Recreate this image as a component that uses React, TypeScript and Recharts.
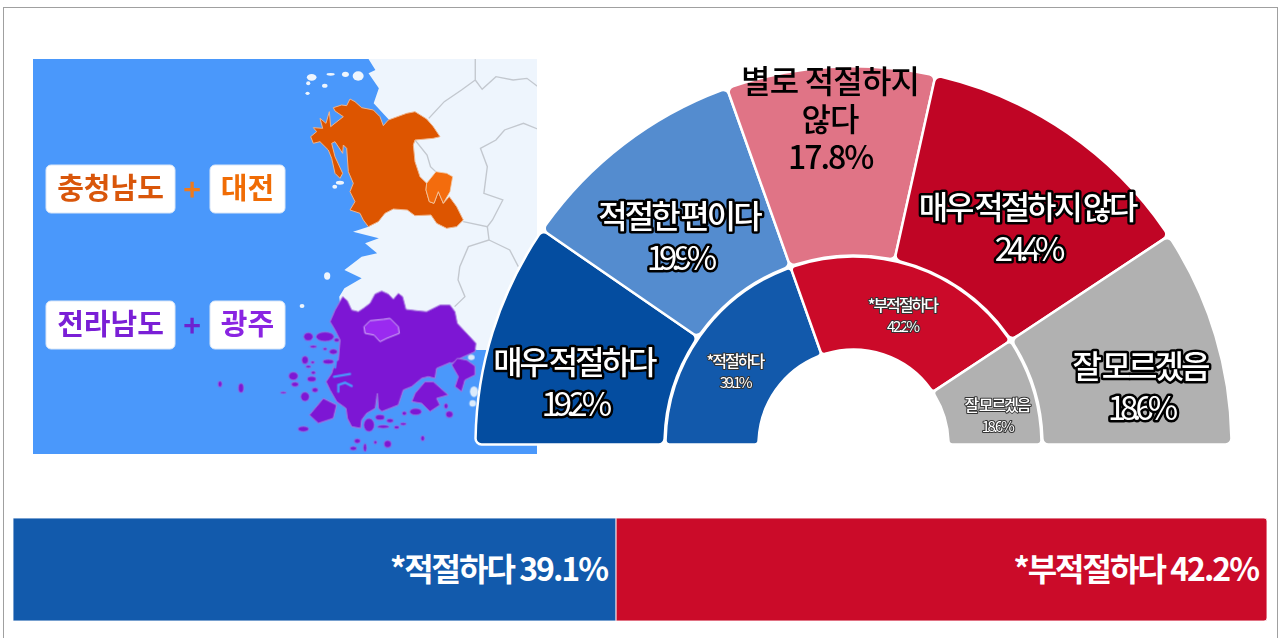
import React from "react";
import { PieChart, Pie, Cell, BarChart, Bar, XAxis, YAxis, LabelList } from "recharts";

const FONT = "'Noto Sans CJK KR', 'Noto Sans', sans-serif";

const outerNames = ["매우 적절하다", "적절한 편이다", "별로 적절하지 않다", "매우 적절하지 않다", "잘 모르겠음"];
const outerValues = [19.2, 19.9, 17.8, 24.4, 18.6];
const outerColors = ["#044da0", "#548ccf", "#e07486", "#c00525", "#b1b1b1"];

const innerNames = ["*적절하다", "*부적절하다", "잘 모르겠음"];
const innerValues = [39.1, 42.2, 18.6];
const innerColors = ["#1259ab", "#cb0a29", "#b1b1b1"];

const barNames = ["*적절하다", "*부적절하다"];
const barValues = [39.1, 42.2];
const barColors = ["#125aac", "#cb0b29"];

// label nudges from the ring's mid radius
const outerNudge = [[-9, 25], [-2, 19], [-6, -43], [13, 19], [15, 26]];
const innerNudge = [[-3, 9], [4, 6], [8, 12]];

const outerData = outerNames.map((name, i) => ({ name, value: outerValues[i] }));
const innerData = innerNames.map((name, i) => ({ name, value: innerValues[i] }));
const barRow = [{ name: "total", good: barValues[0], bad: barValues[1] }];

const RADIAN = Math.PI / 180;

const labelPos = (p: any, nudge: number[][]) => {
  const r = (p.innerRadius + p.outerRadius) / 2;
  return {
    x: p.cx + r * Math.cos(-p.midAngle * RADIAN) + nudge[p.index][0],
    y: p.cy + r * Math.sin(-p.midAngle * RADIAN) + nudge[p.index][1],
  };
};

const outlined = {
  fill: "#fff",
  stroke: "#000",
  paintOrder: "stroke",
  strokeLinejoin: "round",
  textAnchor: "middle",
  fontFamily: FONT,
} as any;

const OuterLabel = (p: any) => {
  const { x, y } = labelPos(p, outerNudge);
  if (p.index === 2) {
    return (
      <text x={x} y={y} textAnchor="middle" fontFamily={FONT} fontSize={32} fontWeight={500} fill="#000" letterSpacing={-0.8}>
        <tspan x={x} y={y - 26}>별로 적절하지</tspan>
        <tspan x={x} y={y + 12}>않다</tspan>
        <tspan x={x} y={y + 50} letterSpacing={-2}>{p.value}%</tspan>
      </text>
    );
  }
  return (
    <g>
      <text {...outlined} x={x} y={y - 11} fontSize={32} fontWeight={500} strokeWidth={5} letterSpacing={-3} wordSpacing={-1.5}>
        {p.name}
      </text>
      <text {...outlined} x={x} y={y + 31} fontSize={33} strokeWidth={5} letterSpacing={-6}>
        {p.value}%
      </text>
    </g>
  );
};

const InnerLabel = (p: any) => {
  const { x, y } = labelPos(p, innerNudge);
  return (
    <g>
      <text {...outlined} x={x} y={y - 5} fontSize={16} fontWeight={500} strokeWidth={2} stroke="#333" letterSpacing={-2}>
        {p.name}
      </text>
      <text {...outlined} x={x} y={y + 16} fontSize={15} strokeWidth={2} stroke="#333" letterSpacing={-2.5}>
        {p.value}%
      </text>
    </g>
  );
};

const BarText = (index: number) => (p: any) => (
  <text
    x={p.x + p.width - 9}
    y={p.y + p.height / 2 + 11}
    textAnchor="end"
    fontFamily={FONT}
    fontSize={32}
    fontWeight={700}
    letterSpacing={-2}
    fill="#fff"
  >
    {barNames[index]} {barValues[index]}%
  </text>
);

// decorative map picture, traced in zoomed pixels
const MAP_LAND = "M1070,57 L1568,57 L1568,930 L1385,930 L1300,900 L1000,900 L985,770 L1000,745 L1050,715 L1000,690 L1050,650 L1095,640 L1060,610 L1100,595 L1025,575 L1070,560 L1130,240 L1085,190 L1100,145 L1070,100 L1090,90 Z";
const MAP_BORDERS = [
  "M1245,235 L1290,185 L1340,150 L1380,120 L1380,57",
  "M1380,120 L1400,148 L1440,110 L1490,120 L1530,115 L1568,145",
  "M1568,270 L1520,250 L1465,270 L1440,300 L1395,325 L1415,380 L1405,460 L1460,480 L1430,540 L1415,560 L1345,545",
  "M1205,300 L1240,345 L1250,380 L1265,395",
  "M1415,560 L1420,600 L1360,620 L1335,680 L1330,720 L1350,770 L1320,800",
  "M1420,600 L1480,630 L1505,680",
];
const ISLES_LIGHT = [
  [905, 112, 14, 10], [960, 103, 12, 4], [1003, 103, 10, 8], [1040, 108, 16, 14], [943, 137, 8, 6], [895, 130, 6, 6], [893, 160, 6, 5],
  [987, 428, 12, 6], [972, 440, 7, 6], [950, 708, 9, 11], [877, 798, 7, 6],
];
const MAP_ORANGE = "M100,68 L125,60 L140,62 L150,42 L165,50 L185,68 L220,75 L240,95 L250,122 L265,105 L320,85 L345,80 L380,102 L400,125 L420,155 L400,160 L345,165 L340,180 L345,230 L360,275 L380,295 L378,315 L388,350 L402,355 L415,320 L430,355 L448,335 L470,365 L490,405 L470,425 L440,430 L410,415 L393,390 L345,392 L322,375 L280,372 L255,385 L235,410 L205,425 L190,405 L180,385 L150,375 L165,350 L150,320 L160,295 L145,260 L140,190 L130,180 L128,205 L105,170 L95,175 L105,215 L128,265 L120,280 L105,265 L95,220 L85,195 L60,170 L40,175 L32,155 L50,140 L40,128 L68,130 L60,100 L78,115 L88,80 L92,125 L130,95 L105,78 Z";
const MAP_DAEJEON = "M408,260 L440,265 L458,275 L450,320 L430,355 L415,320 L402,355 L388,350 L378,315 L380,295 Z";
const MAP_PURPLE = [
  "M218,50 L232,62 L245,90 L265,95 L280,85 L300,70 L315,42 L335,33 L355,42 L370,58 L385,40 L398,50 L408,88 L440,92 L470,95 L510,75 L540,75 L555,95 L562,130 L595,165 L618,190 L615,215 L570,235 L545,250 L540,248 L500,265 L495,295 L475,290 L455,295 L425,320 L400,330 L385,375 L360,385 L335,395 L325,385 L322,340 L316,385 L290,400 L275,420 L272,445 L245,440 L232,415 L228,385 L200,365 L180,330 L168,305 L185,280 L195,245 L205,240 L210,180 L195,150 L180,125 L195,90 Z",
  "M562,235 L590,240 L615,258 L615,285 L585,300 L575,335 L555,320 L565,290 L545,255 Z",
  "M465,305 L490,305 L535,345 L500,355 L510,375 L480,395 L455,370 L425,365 L435,340 Z",
  "M118,405 L160,355 L200,375 L190,415 L145,430 Z",
];
const MAP_INLETS = ["M192,290 L240,282", "M205,335 L205,315 L225,308 L245,318", "M195,262 L200,225"];
const MAP_GWANGJU = "M282,140 L300,122 L340,118 L360,115 L385,140 L388,160 L350,175 L330,185 L312,165 L285,160 Z";
const ISLES_PURPLE = [
  [115, 170, 14, 12], [165, 170, 27, 14], [200, 180, 8, 6], [130, 200, 10, 4], [105, 240, 10, 12], [128, 247, 6, 4], [175, 245, 16, 7],
  [165, 207, 6, 4], [115, 260, 8, 4], [70, 288, 14, 12], [75, 313, 11, 7], [125, 297, 13, 8], [130, 278, 7, 5], [135, 330, 9, 7],
  [105, 350, 13, 14], [40, 338, 9, 3], [100, 447, 16, 8], [330, 412, 14, 8], [360, 422, 10, 6], [340, 440, 18, 5], [380, 442, 8, 5],
  [400, 432, 9, 4], [403, 400, 7, 6], [437, 395, 18, 10], [528, 378, 6, 8], [538, 403, 11, 10], [458, 475, 6, 8], [262, 483, 9, 7],
  [250, 505, 10, 6], [285, 503, 5, 12], [316, 487, 5, 5], [353, 492, 11, 11], [297, 435, 16, 20], [190, 215, 12, 8], [-87, 324, 8, 14], [-150, 312, 6, 9],
];
const ISLES_FOAM = [[612, 335, 12, 16], [608, 370, 10, 10], [604, 232, 10, 8]];

const MapTag = ({ x, w, y, text, color }: any) => (
  <g>
    <rect x={x} y={y} width={w} height={48} rx={5} fill="#fff" stroke="#d9e6f7" />
    <text x={x + w / 2} y={y + 34} textAnchor="middle" fontFamily={FONT} fontWeight={700} fontSize={29} fill={color}>
      {text}
    </text>
  </g>
);

const MapPicture = () => (
  <svg width={504} height={395} viewBox="33 59 504 395" style={{ position: "absolute", left: 33, top: 59 }}>
    <defs>
      <filter id="soft" x="-5%" y="-5%" width="110%" height="110%">
        <feGaussianBlur stdDeviation="0.7" />
      </filter>
    </defs>
    <rect x={33} y={59} width={504} height={395} fill="#4a98fb" />
    <g filter="url(#soft)">
      <g transform="translate(0,40) scale(0.3444,0.3333)">
        <path d={MAP_LAND} fill="#eef5fd" />
        {ISLES_LIGHT.map((e, i) => (
          <ellipse key={i} cx={e[0]} cy={e[1]} rx={e[2]} ry={e[3]} fill="#eef5fd" />
        ))}
        {MAP_BORDERS.map((d, i) => (
          <path key={i} d={d} fill="none" stroke="#c3c8cf" strokeWidth={4} />
        ))}
      </g>
      <g transform="translate(300,85) scale(0.3333)">
        <path d={MAP_ORANGE} fill="#dd5500" stroke="#eeb48c" strokeWidth={3} strokeLinejoin="round" />
        <path d={MAP_DAEJEON} fill="#f36c0a" stroke="#f3c9a5" strokeWidth={2.5} strokeLinejoin="round" />
      </g>
      <g transform="translate(270,280) scale(0.3333)">
        {ISLES_FOAM.map((e, i) => (
          <ellipse key={i} cx={e[0]} cy={e[1]} rx={e[2]} ry={e[3]} fill="#dcebfb" />
        ))}
        {MAP_PURPLE.map((d, i) => (
          <path key={i} d={d} fill="#7d18d4" stroke="#a97ae0" strokeWidth={3} strokeLinejoin="round" />
        ))}
        {MAP_INLETS.map((d, i) => (
          <path key={i} d={d} fill="none" stroke="#4a98fb" strokeWidth={7} strokeLinecap="round" />
        ))}
        {ISLES_PURPLE.map((e, i) => (
          <ellipse key={i} cx={e[0]} cy={e[1]} rx={e[2]} ry={e[3]} fill="#7d18d4" stroke="#a97ae0" strokeWidth={2} />
        ))}
        <path d={MAP_GWANGJU} fill="#9a2cf0" stroke="#d6b8f5" strokeWidth={3} strokeLinejoin="round" />
      </g>
    </g>
    <MapTag x={46} w={129} y={165} text="충청남도" color="#d9560a" />
    <MapTag x={210} w={75} y={165} text="대전" color="#f06c05" />
    <MapTag x={46} w={129} y={301} text="전라남도" color="#7a1fd6" />
    <MapTag x={210} w={75} y={301} text="광주" color="#8a24e2" />
    <text x={192} y={201} textAnchor="middle" fontFamily={FONT} fontWeight={700} fontSize={30} fill="#ef7a1c">+</text>
    <text x={192} y={337} textAnchor="middle" fontFamily={FONT} fontWeight={700} fontSize={30} fill="#6d22d0">+</text>
  </svg>
);

export default function App() {
  return (
    <div style={{ position: "absolute", left: 0, top: 0, width: 1283, height: 638, overflow: "hidden", background: "#fff" }}>
      <div
        style={{
          position: "absolute",
          left: 3,
          top: 7,
          width: 1275,
          height: 640,
          border: "1px solid #a0a0a0",
          boxSizing: "border-box",
        }}
      />
      <MapPicture />
      <div style={{ position: "absolute", left: 0, top: 0 }}>
        <PieChart width={1283} height={500} margin={{ top: 0, right: 0, bottom: 0, left: 0 }}>
          <Pie
            data={outerData}
            dataKey="value"
            cx={853.5}
            cy={444.5}
            startAngle={180}
            endAngle={0}
            innerRadius={189}
            outerRadius={378}
            cornerRadius={6}
            stroke="#fff"
            strokeWidth={2.5}
            label={OuterLabel}
            labelLine={false}
            isAnimationActive={false}
          >
            {outerData.map((d, i) => (
              <Cell key={d.name} fill={outerColors[i]} />
            ))}
          </Pie>
          <Pie
            data={innerData}
            dataKey="value"
            cx={853.5}
            cy={444.5}
            startAngle={180}
            endAngle={0}
            innerRadius={95}
            outerRadius={188}
            cornerRadius={4}
            stroke="#fff"
            strokeWidth={2.5}
            label={InnerLabel}
            labelLine={false}
            isAnimationActive={false}
          >
            {innerData.map((d, i) => (
              <Cell key={d.name} fill={innerColors[i]} />
            ))}
          </Pie>
        </PieChart>
      </div>
      <div style={{ position: "absolute", left: 13, top: 518 }}>
        <BarChart
          width={1254}
          height={103}
          data={barRow}
          layout="vertical"
          barCategoryGap={0}
          margin={{ top: 0, right: 0, bottom: 0, left: 0 }}
        >
          <XAxis type="number" hide domain={[0, barValues[0] + barValues[1]]} />
          <YAxis type="category" dataKey="name" hide />
          <Bar dataKey="good" stackId="a" fill={barColors[0]} stroke="#dce6f3" strokeWidth={1} isAnimationActive={false}>
            <LabelList dataKey="good" content={BarText(0)} />
          </Bar>
          <Bar
            dataKey="bad"
            stackId="a"
            fill={barColors[1]}
            stroke="#f6dde1"
            strokeWidth={1}
            radius={[0, 3, 3, 0]}
            isAnimationActive={false}
          >
            <LabelList dataKey="bad" content={BarText(1)} />
          </Bar>
        </BarChart>
      </div>
    </div>
  );
}
